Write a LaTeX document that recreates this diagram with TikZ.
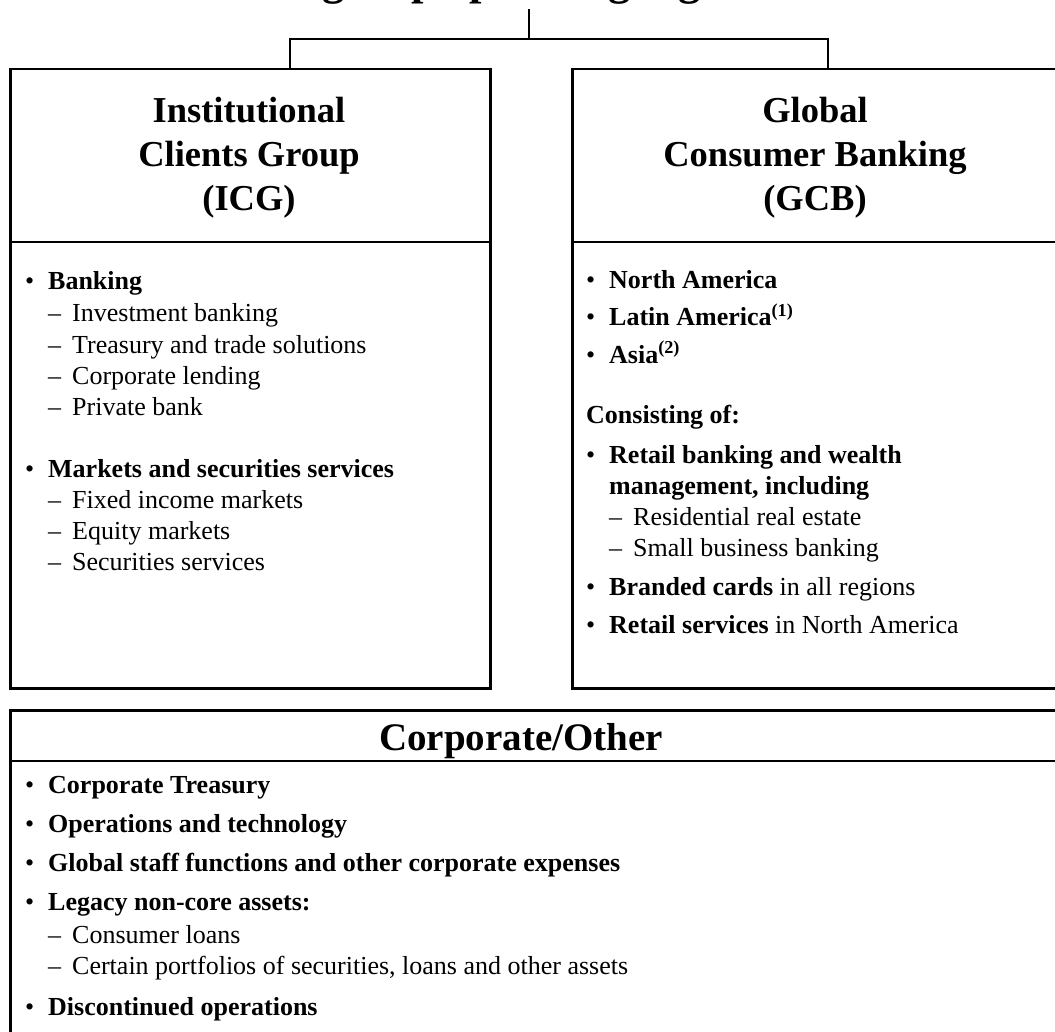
\documentclass[tikz,border=0pt]{standalone}
\usepackage{fontspec}
\setmainfont{Liberation Serif}

% bullet and dash lines of the segment lists
\newcommand{\bitem}[1]{\makebox[23pt][l]{\textbullet}\textbf{#1}}
\newcommand{\ditem}[1]{\hspace*{23pt}\makebox[24pt][l]{--}#1}

\tikzset{
    segbox/.style={draw, line width=2.5pt, anchor=north west, inner sep=0pt},
    seghead/.style={align=center, inner sep=0pt, font=\fontsize{36.5}{44}\selectfont\bfseries},
    item/.style={anchor=base west, inner sep=0pt, font=\fontsize{26}{31}\selectfont},
    link/.style={line width=2pt},
}

\begin{document}
\begin{tikzpicture}[x=1pt, y=-1pt]
    \useasboundingbox (0,0) rectangle (1055,1032);

    % title and the fork down to the two segments
    \node[anchor=base, inner sep=0pt, font=\fontsize{44.6}{50}\selectfont\bfseries]
        (title) at (533,-5) {Citigroup operating segments};
    \coordinate (fork) at (529,39);

    % segment boxes
    \node[segbox, minimum width=480pt, minimum height=619pt] (icg) at (9,68) {};
    \node[segbox, minimum width=487pt, minimum height=619pt] (gcb) at (571,68) {};
    \node[segbox, minimum width=1049pt, minimum height=340pt] (corp) at (9,709) {};
    \draw[segbox] ([yshift=-174pt]icg.north west) -- ([yshift=-174pt]icg.north east);
    \draw[segbox] ([yshift=-174pt]gcb.north west) -- ([yshift=-174pt]gcb.north east);
    \draw[segbox] ([yshift=-52pt]corp.north west) -- ([yshift=-52pt]corp.north east);

    \draw[link] (fork |- 0,9) -- (fork);
    \draw[link] ([xshift=40pt]icg.north) |- (fork) -| ([xshift=12pt]gcb.north);

    % headers
    \node[seghead] (icghead) at (249,158) {Institutional\\Clients Group\\(ICG)};
    \node[seghead] (gcbhead) at (815,158) {Global\\Consumer Banking\\(GCB)};
    \node[anchor=base, inner sep=0pt, font=\fontsize{39}{44}\selectfont\bfseries]
        (corphead) at (521,750) {Corporate/Other};

    % ICG list
    \foreach \yy/\txt [count=\i] in {
        290/\bitem{Banking},
        322/\ditem{Investment banking},
        353/\ditem{Treasury and trade solutions},
        384/\ditem{Corporate lending},
        415/\ditem{Private bank},
        477/\bitem{Markets and securities services},
        508/\ditem{Fixed income markets},
        539/\ditem{Equity markets},
        570/\ditem{Securities services}}
        \node[item] (icg\i) at (25,\yy) {\txt};

    % GCB list
    \foreach \yy/\txt [count=\i] in {
        289/\bitem{North America},
        326/\bitem{Latin America\textsuperscript{(1)}},
        363/\bitem{Asia\textsuperscript{(2)}},
        423/\textbf{Consisting of:},
        463/\bitem{Retail banking and wealth},
        494/{\hspace*{23pt}\textbf{management, including}},
        525/\ditem{Residential real estate},
        556/\ditem{Small business banking},
        595/{\bitem{Branded cards} in all regions},
        633/{\bitem{Retail services} in North America}}
        \node[item] (gcb\i) at (586,\yy) {\txt};

    % Corporate/Other list
    \foreach \yy/\txt [count=\i] in {
        793/\bitem{Corporate Treasury},
        832/\bitem{Operations and technology},
        871/\bitem{Global staff functions and other corporate expenses},
        910/\bitem{Legacy non-core assets:},
        943/\ditem{Consumer loans},
        974/{\ditem{Certain portfolios of securities, loans and other assets}},
        1015/\bitem{Discontinued operations}}
        \node[item] (corp\i) at (25,\yy) {\txt};
\end{tikzpicture}
\end{document}
